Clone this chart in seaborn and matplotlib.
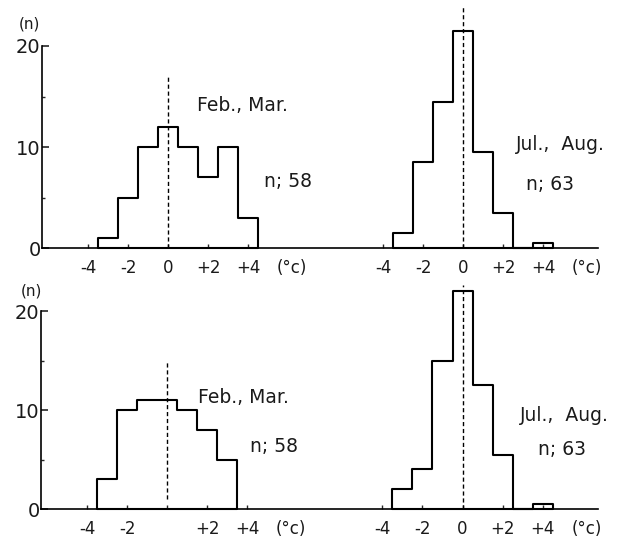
import matplotlib
matplotlib.use("Agg")
import matplotlib.pyplot as plt
import seaborn as sns

sns.set_style("white")
plt.rcParams['font.family'] = ['DejaVu Sans']

# temperature anomaly bins (°C) and counts
winter_bins = [-3, -2, -1, 0, 1, 2, 3, 4]
summer_bins = [-3, -2, -1, 0, 1, 2, 3, 4]
top_winter = [1, 5, 10, 12, 10, 7, 10, 3]
top_summer = [1.5, 8.5, 14.5, 21.5, 9.5, 3.5, 0, 0.5]

low_winter_bins = [-3, -2, -1, 0, 1, 2, 3]
low_winter = [3, 10, 11, 11, 10, 8, 5]
low_summer = [2, 4, 15, 22, 12.5, 5.5, 0, 0.5]

xtick_vals = [-4, -2, 0, 2, 4]
xtick_top = ["-4", "-2", "0", "+2", "+4"]
xtick_low_left = ["-4", "-2", "", "+2", "+4"]
ytick_vals = [0, 10, 20]

# right-hand histogram is drawn on the same axes, shifted by this much
shift = 14.75
ink = "#1a1a1a"

fig = plt.figure(figsize=(6.22, 5.38), dpi=100)
ax_top = fig.add_axes([42 / 622, 0.539, 0.894, 0.3755])
ax_low = fig.add_axes([41 / 622, 0.0539, 0.895, 0.368])


def draw_hist(ax, bins, counts, offset):
    xs = [b + offset for b in bins]
    sns.histplot(x=xs, weights=counts, binwidth=1,
                 binrange=(xs[0] - 0.5, xs[-1] + 0.5),
                 element="step", fill=True, color="black", facecolor="none",
                 edgecolor="black", linewidth=1.5, clip_on=False, ax=ax)


def style_axis(ax, left_labels, right_labels):
    ax.set_xlim(-6.3, 21.5)
    ax.set_ylim(0, 20)
    ax.set_xlabel("")
    ax.set_ylabel("")
    for s in ["top", "right"]:
        ax.spines[s].set_visible(False)
    for s in ["left", "bottom"]:
        ax.spines[s].set_color("black")
        ax.spines[s].set_linewidth(1.2)
    ticks = xtick_vals + [v + shift for v in xtick_vals]
    ax.set_xticks(ticks)
    ax.set_xticklabels(left_labels + right_labels)
    ax.set_yticks(ytick_vals)
    ax.set_yticklabels([str(v) for v in ytick_vals])
    ax.set_yticks([5, 15], minor=True)
    ax.tick_params(axis="x", direction="in", length=3, width=1, pad=8,
                   labelsize=12, labelcolor=ink, bottom=True)
    ax.tick_params(axis="y", direction="in", length=5, width=1.2, pad=1,
                   labelsize=14, labelcolor=ink, left=True)
    ax.tick_params(axis="y", which="minor", direction="in", length=2,
                   width=1, left=True)
    for off in [0, shift]:
        ax.annotate("(°c)", (6.2 + off, 0), xytext=(0, -8),
                    textcoords="offset points", ha="center", va="top",
                    fontsize=12, color=ink, annotation_clip=False)


# top row
draw_hist(ax_top, winter_bins, top_winter, 0)
draw_hist(ax_top, summer_bins, top_summer, shift)
ax_top.vlines(0, 0, 17, colors="black", linestyles=(0, (3, 2)), linewidth=1)
ax_top.vlines(shift, 0, 24, colors="black", linestyles=(0, (3, 2)),
              linewidth=1, clip_on=False)
style_axis(ax_top, xtick_top, xtick_top)
ax_top.text(3.7, 14.1, "Feb., Mar.", ha="center", va="center", fontsize=13.5, color=ink)
ax_top.text(6.0, 6.6, "n; 58", ha="center", va="center", fontsize=13.5, color=ink)
ax_top.text(shift + 4.85, 10.2, "Jul.,  Aug.", ha="center", va="center", fontsize=13.5, color=ink)
ax_top.text(shift + 4.35, 6.3, "n; 63", ha="center", va="center", fontsize=13.5, color=ink)

# bottom row
draw_hist(ax_low, low_winter_bins, low_winter, 0)
draw_hist(ax_low, summer_bins, low_summer, shift)
ax_low.vlines(0, 1, 14.8, colors="black", linestyles=(0, (3, 2)), linewidth=1)
ax_low.vlines(shift, 0, 22.6, colors="black", linestyles=(0, (3, 2)),
              linewidth=1, clip_on=False)
style_axis(ax_low, xtick_low_left, xtick_top)
ax_low.text(3.8, 11.3, "Feb., Mar.", ha="center", va="center", fontsize=13.5, color=ink)
ax_low.text(5.35, 6.3, "n; 58", ha="center", va="center", fontsize=13.5, color=ink)
ax_low.text(shift + 5.1, 9.4, "Jul.,  Aug.", ha="center", va="center", fontsize=13.5, color=ink)
ax_low.text(shift + 4.95, 6.0, "n; 63", ha="center", va="center", fontsize=13.5, color=ink)

fig.text(29 / 622, 0.955, "(n)", ha="center", va="center", fontsize=11, color=ink)
fig.text(31 / 622, 0.459, "(n)", ha="center", va="center", fontsize=11, color=ink)

fig.savefig("out.png", dpi=100)
